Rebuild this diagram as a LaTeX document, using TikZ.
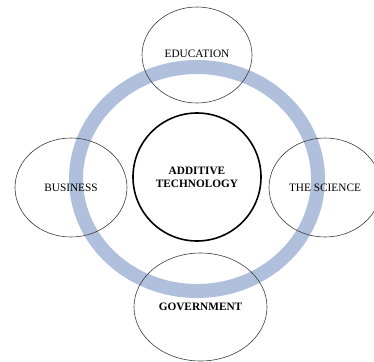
\documentclass[tikz,border=0pt]{standalone}
\usepackage{fontspec}
\setmainfont{Liberation Serif}
\usetikzlibrary{shapes.geometric}
\definecolor{ringblue}{RGB}{176,192,220}
\definecolor{thinline}{RGB}{60,60,60}
\begin{document}
\begin{tikzpicture}[x=1pt,y=-1pt,
  outer/.style={ellipse,draw=thinline,line width=0.6pt,inner sep=0pt,
    font=\fontsize{11.3}{13}\selectfont,align=center},
  core/.style={circle,draw=black,line width=1.6pt,inner sep=0pt,
    minimum size=128pt,font=\bfseries\fontsize{11.3}{13}\selectfont,align=center}]
\useasboundingbox (0,0) rectangle (374,361);
% ring
\draw[ringblue,line width=14pt] (197,179) ellipse [x radius=121, y radius=112];
% central node
\node[core] (core) at (197,177) {ADDITIVE\\TECHNOLOGY};
% outer nodes
\node[outer,minimum width=110pt,minimum height=96pt] (edu) at (197,55) {\raisebox{2pt}{EDUCATION}};
\node[outer,minimum width=112pt,minimum height=99pt] (bus) at (71,187.5) {BUSINESS};
\node[outer,minimum width=112pt,minimum height=99pt] (sci) at (325,187.5) {THE SCIENCE};
\node[outer,minimum width=133pt,minimum height=108pt,font=\bfseries\fontsize{11.3}{13}\selectfont] (gov) at (200.5,307) {GOVERNMENT};
\end{tikzpicture}
\end{document}
